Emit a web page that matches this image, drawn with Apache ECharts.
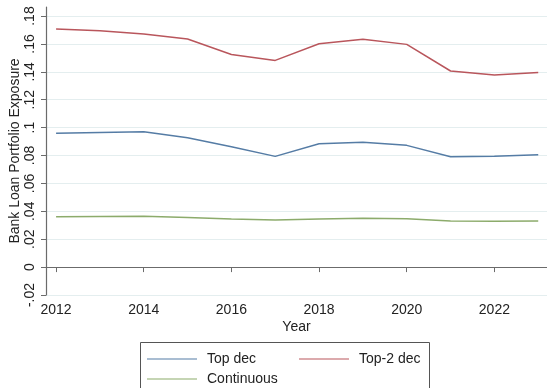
<!DOCTYPE html>
<html>
<head>
<meta charset="utf-8">
<script src="https://cdn.jsdelivr.net/npm/echarts@6/dist/echarts.min.js"></script>
<style>
  html, body { margin: 0; padding: 0; background: #fff; }
  #chart { width: 547px; height: 388px; }
</style>
</head>
<body>
<div id="chart"></div>
<script>
  // data
  var years = [2012, 2013, 2014, 2015, 2016, 2017, 2018, 2019, 2020, 2021, 2022, 2023];
  var topDec = [0.0959, 0.0965, 0.0971, 0.0928, 0.0863, 0.0794, 0.0885, 0.0895, 0.0873, 0.0791, 0.0794, 0.0805];
  var top2Dec = [0.1707, 0.1695, 0.1671, 0.1635, 0.1525, 0.1482, 0.1601, 0.1633, 0.1597, 0.1406, 0.1377, 0.1396];
  var continuous = [0.0361, 0.0363, 0.0364, 0.0356, 0.0345, 0.0338, 0.0345, 0.0350, 0.0347, 0.0330, 0.0328, 0.0330];
  var xTicks = [2012, 2014, 2016, 2018, 2020, 2022];
  var yTicks = [-0.02, 0, 0.02, 0.04, 0.06, 0.08, 0.1, 0.12, 0.14, 0.16, 0.18];

  function pairs(vals) {
    return years.map(function (y, i) { return [y, vals[i]]; });
  }
  // stata style: .18, 0, -.02
  function fmt(v) {
    var s = String(+(+v).toFixed(2));
    return s.replace(/^0\./, '.').replace(/^-0\./, '-.');
  }

  var font = 'Liberation Sans, Arial, sans-serif';
  var axisCol = '#6b6b6b';
  var fs = 14;

  var myChart = echarts.init(document.getElementById('chart'));
  var option = {
    animation: false,
    textStyle: { fontFamily: font },
    grid: { left: 46, right: 0, top: 7, bottom: 93, containLabel: false, outerBoundsMode: 'none' },
    xAxis: {
      type: 'value',
      min: 2011.77,
      max: 2023.2,
      name: 'Year',
      nameLocation: 'middle',
      nameGap: 25,
      nameMoveOverlap: false,
      nameTextStyle: { fontSize: fs, color: '#222', fontFamily: font },
      axisLine: { lineStyle: { color: axisCol, width: 1.2 } },
      axisTick: { customValues: xTicks, length: 5, lineStyle: { color: axisCol } },
      axisLabel: { customValues: xTicks, fontSize: fs, color: '#222', margin: 8, fontFamily: font,
        formatter: function (v) { return String(v); } },
      splitLine: { show: false }
    },
    yAxis: {
      type: 'value',
      min: -0.02,
      max: 0.1865,
      name: 'Bank Loan Portfolio Exposure',
      nameLocation: 'middle',
      nameGap: 24,
      nameMoveOverlap: false,
      nameTextStyle: { fontSize: fs, color: '#222', fontFamily: font },
      axisLine: { show: true, lineStyle: { color: axisCol, width: 1.2 } },
      axisTick: { show: true, customValues: yTicks, length: 5, lineStyle: { color: axisCol } },
      axisLabel: {
        customValues: yTicks, rotate: 90, fontSize: fs, color: '#222', margin: 9,
        fontFamily: font, formatter: fmt
      },
      splitLine: { show: true, lineStyle: { color: '#e4eeef', width: 1.2 } }
    },
    legend: [
      {
        data: ['Top dec', 'Top-2 dec'],
        left: 142, top: 347,
        itemWidth: 50, itemHeight: 14, itemGap: 43,
        icon: 'path://M0,6.5L50,6.5L50,7.5L0,7.5Z',
        textStyle: { fontSize: fs, color: '#222', fontFamily: font, padding: [0, 0, 0, 5] }
      },
      {
        data: ['Continuous'],
        left: 142, top: 367,
        itemWidth: 50, itemHeight: 14,
        icon: 'path://M0,6.5L50,6.5L50,7.5L0,7.5Z',
        textStyle: { fontSize: fs, color: '#222', fontFamily: font, padding: [0, 0, 0, 5] }
      }
    ],
    graphic: [{
      type: 'rect',
      shape: { x: 140.5, y: 342.5, width: 289, height: 60 },
      style: { fill: 'none', stroke: '#555', lineWidth: 1 },
      silent: true
    }],
    series: [
      { name: 'Top dec', type: 'line', data: pairs(topDec), showSymbol: false,
        lineStyle: { color: '#557ca5', width: 1.5 }, itemStyle: { color: '#557ca5' } },
      { name: 'Top-2 dec', type: 'line', data: pairs(top2Dec), showSymbol: false,
        lineStyle: { color: '#b9565c', width: 1.5 }, itemStyle: { color: '#b9565c' } },
      { name: 'Continuous', type: 'line', data: pairs(continuous), showSymbol: false,
        lineStyle: { color: '#8cab6b', width: 1.5 }, itemStyle: { color: '#8cab6b' } }
    ]
  };
  myChart.setOption(option);
</script>
</body>
</html>
